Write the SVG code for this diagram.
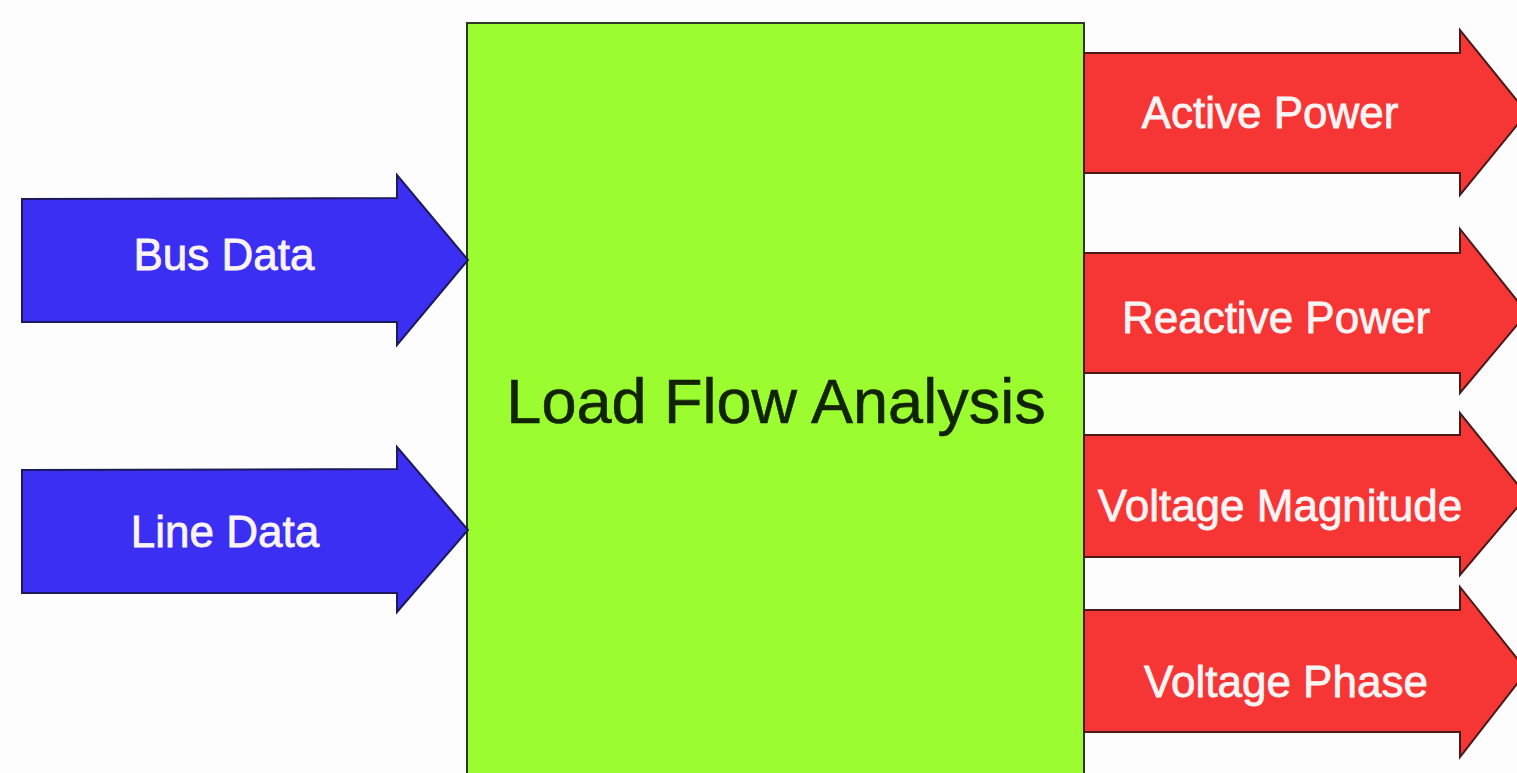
<svg xmlns="http://www.w3.org/2000/svg" width="1517" height="773" viewBox="0 0 1517 773">
  <style>
    .in { fill: #3a2ff2; stroke: #1c1a5a; stroke-width: 2; stroke-linejoin: miter; }
    .out { fill: #f63535; stroke: #4a1a1a; stroke-width: 2; stroke-linejoin: miter; }
    .box { fill: #9bfd30; stroke: #2e3a28; stroke-width: 2; }
    .lbl { font-family: "Liberation Sans", Arial, sans-serif; font-size: 44px; fill: #fbf4f4; stroke: #fbf4f4; stroke-width: 0.8; text-anchor: middle; }
    .main { font-family: "Liberation Sans", Arial, sans-serif; font-size: 63px; fill: #122300; stroke: #122300; stroke-width: 0.6; text-anchor: middle; }
  </style>
  <rect width="1517" height="773" fill="#fdfdfd"/>
  <g id="load-flow-analysis">
    <rect class="box" x="467" y="23" width="617" height="760"/>
    <text class="main" x="776" y="423">Load Flow Analysis</text>
  </g>
  <g id="bus-data">
    <polygon class="in" points="22,199 397,198 397,175 468,260 397,345 397,322 22,322"/>
    <text class="lbl" x="224" y="270">Bus Data</text>
  </g>
  <g id="line-data">
    <polygon class="in" points="22,470 397,469 397,447 468,530 397,612 397,593 22,593"/>
    <text class="lbl" x="225" y="547">Line Data</text>
  </g>
  <g id="active-power">
    <polygon class="out" points="1084,53 1460,53 1460,30 1527,113 1460,195 1460,173 1084,173"/>
    <text class="lbl" x="1270" y="128">Active Power</text>
  </g>
  <g id="reactive-power">
    <polygon class="out" points="1084,253 1460,253 1460,229 1527,313 1460,393 1460,373 1084,373"/>
    <text class="lbl" x="1276" y="333">Reactive Power</text>
  </g>
  <g id="voltage-magnitude">
    <polygon class="out" points="1084,435 1460,435 1460,413 1527,496 1460,575 1460,557 1084,557"/>
    <text class="lbl" x="1280" y="521">Voltage Magnitude</text>
  </g>
  <g id="voltage-phase">
    <polygon class="out" points="1084,610 1460,610 1460,587 1527,671 1460,757 1460,732 1084,732"/>
    <text class="lbl" x="1286" y="697">Voltage Phase</text>
  </g>
  <g id="connectors"></g>
</svg>
